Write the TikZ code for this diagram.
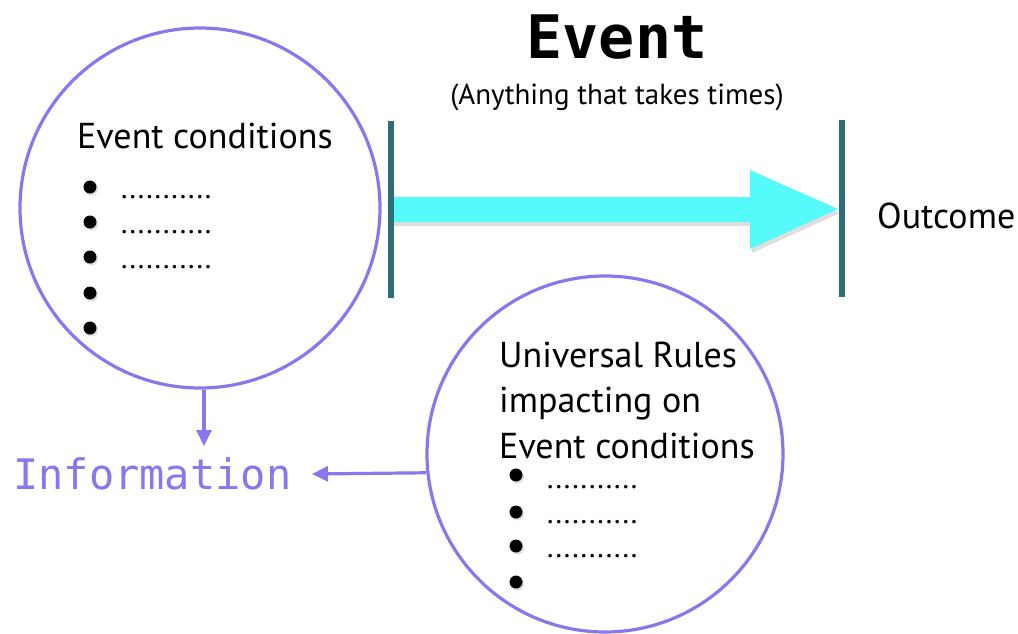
\documentclass[tikz,border=0pt]{standalone}
\usepackage{fontspec}
\setmainfont{PT Sans}
\newfontfamily\monofont{DejaVu Sans Mono}
\usetikzlibrary{shadows,arrows.meta}
\definecolor{ringpurple}{RGB}{136,120,238}
\definecolor{barteal}{RGB}{46,110,120}
\definecolor{flowcyan}{RGB}{85,250,250}
\tikzset{
  ring/.style={circle, draw=ringpurple, line width=3.2pt, minimum size=#1, inner sep=0pt},
  bar/.style={draw=barteal, line width=6pt},
  body/.style={font=\fontsize{36}{42}\selectfont, anchor=base west, inner sep=0pt},
  dotrow/.style={font=\fontsize{30}{34}\selectfont, anchor=base west, inner sep=0pt},
  bullet/.style={circle, fill=black, minimum size=13pt, inner sep=0pt,
    drop shadow={shadow xshift=1.5pt, shadow yshift=-2pt, opacity=0.25}},
  link/.style={draw=ringpurple, line width=3.2pt, -{Triangle[length=16pt,width=15pt]}},
}
\begin{document}
\begin{tikzpicture}[x=1pt,y=-1pt]
\useasboundingbox (0,0) rectangle (1018,633);

% headline
\node[font=\monofont\bfseries\fontsize{60}{64}\selectfont, inner sep=0pt] (title) at (617,37) {Event};
\node[font=\fontsize{29}{34}\selectfont, inner sep=0pt] (subtitle) at (617,97) {(Anything that takes times)};

% time bars and the flow arrow
\coordinate (startT) at (391,121);
\coordinate (startB) at (391,298);
\coordinate (endT) at (842,120);
\coordinate (endB) at (842,297);
\fill[flowcyan, drop shadow={shadow xshift=2pt, shadow yshift=-4pt, opacity=0.25}]
  (392,197) -- (750,197) -- (750,170) -- (838,209) -- (750,249) -- (750,222) -- (392,222) -- cycle;
\draw[bar] (startT) -- (startB);
\draw[bar] (endT) -- (endB);
\node[font=\fontsize{36}{42}\selectfont, anchor=west, inner sep=0pt] (outcome) at (877,216) {Outcome};

% conditions circle
\node[ring=360pt] (cond) at (200,208) {};
\node[body] (condtitle) at (77,148) {Event conditions};
\foreach \i/\y in {1/187,2/222,3/257,4/293,5/328} {
  \node[bullet] (cb\i) at (90,\y) {};
}
\foreach \i/\y in {1/198,2/233,3/268} {
  \node[dotrow] (cd\i) at (121,\y) {...........};
}

% rules circle
\node[ring=356pt] (rules) at (605,454) {};
\node[body] (r1) at (499,367) {Universal Rules};
\node[body] (r2) at (499,412) {impacting on};
\node[body] (r3) at (499,458) {Event conditions};
\foreach \i/\y in {1/475,2/512,3/546,4/582} {
  \node[bullet] (rb\i) at (516,\y) {};
}
\foreach \i/\y in {1/488,2/523,3/557} {
  \node[dotrow] (rd\i) at (547,\y) {...........};
}

% information
\node[font=\monofont\fontsize{42}{46}\selectfont, text=ringpurple, inner sep=0pt, anchor=west] (info) at (13,474) {Information};
\coordinate (infoTop) at (204,446);
\coordinate (infoRight) at (312,474);
\draw[link] (cond.south -| infoTop) -- (infoTop);
\draw[link] (rules.186.45) -- (infoRight);
\end{tikzpicture}
\end{document}
